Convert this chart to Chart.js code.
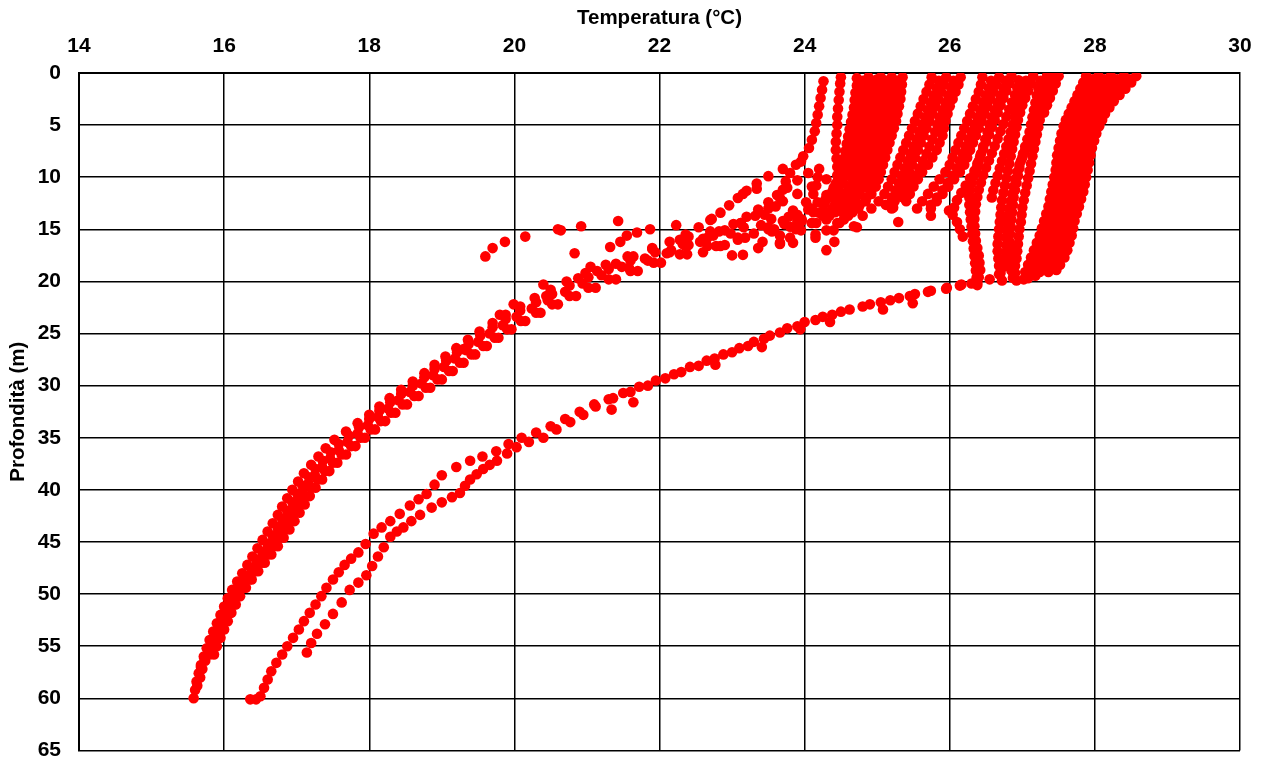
<!DOCTYPE html>
<html><head><meta charset="utf-8">
<script src="https://cdn.jsdelivr.net/npm/chart.js@4/dist/chart.umd.min.js"></script>
<style>html,body{margin:0;padding:0;background:#fff;}</style>
</head><body>
<canvas id="c" width="1264" height="765"></canvas>
<script>
// Profiles: [temperature °C, depth m]
const castL1 = [[15.58,60],[15.6,59.2],[15.62,58.4],[15.65,57.6],[15.68,56.8],[15.72,56],[15.76,55.2],[15.8,54.4],[15.85,53.6],[15.9,52.8],[15.95,52],[16.0,51.2],[16.05,50.4],[16.11,49.6],[16.18,48.8],[16.25,48],[16.32,47.2],[16.39,46.4],[16.46,45.6],[16.53,44.8],[16.6,44],[16.67,43.2],[16.74,42.4],[16.8,41.6],[16.87,40.8],[16.94,40],[17.02,39.2],[17.1,38.4],[17.2,37.6],[17.3,36.8],[17.4,36],[17.52,35.2],[17.68,34.4],[17.84,33.6],[18.0,32.8],[18.14,32],[18.28,31.2],[18.44,30.4],[18.6,29.6],[18.76,28.8],[18.9,28],[19.05,27.2],[19.2,26.4],[19.36,25.6],[19.52,24.8],[19.7,24],[19.88,23.2],[20.08,22.4],[20.28,21.6],[20.5,20.8],[20.72,20],[20.98,19.2],[21.26,18.4],[21.56,17.6],[21.9,16.8],[22.28,16],[22.7,15.2],[23.12,14.4],[23.45,13.6],[23.6,12.8],[23.66,12],[23.7,11.2],[23.74,10.4],[23.8,9.6],[23.88,8.8],[23.98,8],[24.06,7.2],[24.1,6.4],[24.14,5.6],[24.16,4.8],[24.18,4],[24.2,3.2],[24.22,2.4],[24.24,1.6],[24.26,0.8]];
const castL2 = [[15.68,57],[15.73,56.2],[15.78,55.4],[15.84,54.6],[15.9,53.8],[15.95,53],[16.0,52.2],[16.06,51.4],[16.12,50.6],[16.18,49.8],[16.26,49],[16.34,48.2],[16.42,47.4],[16.5,46.6],[16.58,45.8],[16.66,45],[16.73,44.2],[16.8,43.4],[16.87,42.6],[16.94,41.8],[17.01,41],[17.08,40.2],[17.16,39.4],[17.25,38.6],[17.35,37.8],[17.46,37],[17.58,36.2],[17.7,35.4],[17.84,34.6],[17.98,33.8],[18.12,33],[18.26,32.2],[18.4,31.4],[18.56,30.6],[18.72,29.8],[18.88,29],[19.03,28.2],[19.18,27.4],[19.34,26.6],[19.5,25.8],[19.66,25],[19.84,24.2],[20.03,23.4],[20.24,22.6],[20.46,21.8],[20.7,21],[20.94,20.2],[21.2,19.4],[21.48,18.6],[21.8,17.8],[22.16,17],[22.56,16.2],[22.98,15.4],[23.4,14.6],[23.78,13.8],[24.08,13],[24.28,12.2],[24.38,11.4],[24.43,10.6],[24.45,9.8],[24.45,9],[24.44,8.2],[24.43,7.4],[24.43,6.6],[24.44,5.8],[24.45,5],[24.45,4.2],[24.46,3.4],[24.47,2.6],[24.48,1.8],[24.49,1],[24.5,0.4]];
const castL3 = [[15.86,55.8],[15.9,55],[15.95,54.2],[16.0,53.4],[16.05,52.6],[16.1,51.8],[16.16,51],[16.22,50.2],[16.3,49.4],[16.38,48.6],[16.47,47.8],[16.56,47],[16.65,46.2],[16.74,45.4],[16.82,44.6],[16.9,43.8],[16.97,43],[17.04,42.2],[17.11,41.4],[17.18,40.6],[17.26,39.8],[17.35,39],[17.45,38.2],[17.56,37.4],[17.68,36.6],[17.81,35.8],[17.94,35],[18.08,34.2],[18.22,33.4],[18.36,32.6],[18.52,31.8],[18.68,31],[18.84,30.2],[19.0,29.4],[19.15,28.6],[19.3,27.8],[19.46,27],[19.62,26.2],[19.78,25.4],[19.96,24.6],[20.15,23.8],[20.36,23],[20.6,22.2],[20.85,21.4],[21.12,20.6],[21.4,19.8],[21.7,19],[22.02,18.2],[22.38,17.4],[22.78,16.6],[23.18,15.8],[23.58,15],[23.96,14.2],[24.28,13.4],[24.54,12.6],[24.72,11.8],[24.8,11],[24.84,10.2],[24.86,9.4],[24.88,8.6],[24.89,7.8],[24.9,7],[24.91,6.2],[24.92,5.4],[24.93,4.6],[24.94,3.8],[24.95,3],[24.96,2.2],[24.98,1.4],[25.0,0.6]];
const castL4 = [[15.63,58.8],[15.67,58],[15.7,57.2],[15.74,56.4],[15.78,55.6],[15.83,54.8],[15.88,54],[15.93,53.2],[15.98,52.4],[16.03,51.6],[16.09,50.8],[16.15,50],[16.22,49.2],[16.3,48.4],[16.38,47.6],[16.45,46.8],[16.53,46],[16.6,45.2],[16.67,44.4],[16.74,43.6],[16.8,42.8],[16.87,42],[16.94,41.2],[17.01,40.4],[17.08,39.6],[17.17,38.8],[17.26,38],[17.36,37.2],[17.47,36.4],[17.58,35.6],[17.72,34.8],[17.86,34],[18.0,33.2],[18.14,32.4],[18.29,31.6],[18.44,30.8],[18.6,30],[18.76,29.2],[18.9,28.4],[19.06,27.6],[19.21,26.8],[19.37,26],[19.53,25.2],[19.7,24.4],[19.88,23.6],[20.08,22.8],[20.3,22],[20.52,21.2],[20.76,20.4],[21.02,19.6],[21.3,18.8],[21.6,18],[21.94,17.2],[22.32,16.4],[22.74,15.6],[23.16,14.8],[23.54,14],[23.84,13.2],[24.02,12.4],[24.12,11.6],[24.16,10.8],[24.18,10],[24.2,9.2]];
const castL5 = [[15.8,55.8],[15.86,55],[15.91,54.2],[15.97,53.4],[16.02,52.6],[16.08,51.8],[16.14,51],[16.2,50.2],[16.27,49.4],[16.35,48.6],[16.43,47.8],[16.52,47],[16.6,46.2],[16.68,45.4],[16.76,44.6],[16.84,43.8],[16.91,43],[16.98,42.2],[17.05,41.4],[17.12,40.6],[17.2,39.8],[17.29,39],[17.39,38.2],[17.5,37.4],[17.62,36.6],[17.75,35.8],[17.88,35],[18.02,34.2],[18.16,33.4],[18.3,32.6],[18.46,31.8],[18.62,31],[18.78,30.2],[18.94,29.4],[19.1,28.6],[19.25,27.8],[19.41,27],[19.57,26.2],[19.73,25.4],[19.9,24.6],[20.09,23.8],[20.3,23],[20.52,22.2],[20.76,21.4],[21.02,20.6],[21.3,19.8],[21.6,19],[21.92,18.2],[22.28,17.4],[22.66,16.6],[23.08,15.8],[23.5,15],[23.9,14.2],[24.2,13.4],[24.42,12.6],[24.56,11.8],[24.62,11]];
const castR1 = [[16.36,60.1],[16.44,60.1],[16.5,59.8],[16.55,59],[16.6,58.2],[16.65,57.4],[16.72,56.6],[16.8,55.8],[16.87,55],[16.95,54.2],[17.03,53.4],[17.1,52.6],[17.18,51.8],[17.26,51],[17.34,50.2],[17.41,49.4],[17.5,48.6],[17.58,47.9],[17.66,47.2],[17.75,46.6],[17.85,46],[17.95,45.2],[18.06,44.2],[18.17,43.6],[18.29,43],[18.42,42.3],[18.56,41.5],[18.68,40.9],[18.79,40.4],[18.9,39.5],[19.0,38.6],[19.2,37.8],[19.39,37.2],[19.56,36.8],[19.75,36.3],[19.92,35.6],[20.1,35],[20.3,34.5],[20.5,33.9],[20.7,33.2],[20.9,32.5],[21.1,31.8],[21.36,31.2],[21.6,30.6],[21.84,30],[22.08,29.3],[22.3,28.7],[22.54,28.1],[22.76,27.4],[23.0,26.8],[23.22,26.2],[23.44,25.5],[23.66,24.9],[23.9,24.3],[24.15,23.7],[24.38,23.2],[24.62,22.7],[24.9,22.2],[25.18,21.8],[25.45,21.4],[25.7,21],[25.95,20.7],[26.14,20.4],[26.3,20.2],[26.4,19.6],[26.42,18.9],[26.41,18.2],[26.4,17.5],[26.38,16.8],[26.36,16.1],[26.35,15.4],[26.34,14.7],[26.34,14],[26.35,13.3],[26.36,12.6],[26.38,11.9],[26.4,11.2],[26.43,10.5],[26.46,9.8],[26.5,9.1],[26.54,8.4],[26.58,7.7],[26.62,7],[26.66,6.3],[26.7,5.6],[26.74,4.9],[26.78,4.2],[26.82,3.5],[26.86,2.8],[26.9,2.1],[26.93,1.4],[26.95,0.7]];
const castR2 = [[17.14,55.6],[17.2,54.7],[17.28,53.8],[17.39,52.9],[17.5,51.9],[17.62,50.8],[17.73,49.6],[17.85,48.9],[17.96,48.2],[18.04,47.3],[18.12,46.4],[18.2,45.5],[18.29,44.5],[18.38,44],[18.47,43.6],[18.58,43],[18.7,42.4],[18.86,41.7],[19.0,41.2],[19.14,40.7],[19.25,40.3],[19.32,39.6],[19.39,39],[19.48,38.5],[19.57,38],[19.66,37.6],[19.76,37.2],[19.9,36.5],[20.03,35.9],[20.2,35.4],[20.4,35],[20.58,34.2],[20.77,33.5],[20.95,32.8],[21.12,32],[21.3,31.3],[21.5,30.7],[21.72,30.1],[21.95,29.5],[22.2,28.9],[22.42,28.2],[22.65,27.6],[22.88,27],[23.1,26.4],[23.3,25.8],[23.52,25.2],[23.76,24.5],[24.0,23.9],[24.25,23.4],[24.5,22.9],[24.8,22.4],[25.05,22],[25.3,21.6],[25.52,21.2],[25.74,20.9],[25.96,20.6],[26.16,20.3],[26.38,20.1],[26.55,19.8],[26.68,19.3],[26.74,18.6],[26.76,17.9],[26.77,17.2],[26.78,16.5],[26.78,15.8],[26.78,15.1],[26.79,14.4],[26.8,13.7],[26.82,13],[26.84,12.3],[26.86,11.6],[26.88,10.9],[26.9,10.2],[26.93,9.5],[26.96,8.8],[27.0,8.1],[27.04,7.4],[27.08,6.7],[27.12,6],[27.16,5.3],[27.2,4.6],[27.24,3.9],[27.28,3.2],[27.32,2.5],[27.36,1.8],[27.4,1.1],[27.42,0.4]];
const castA1 = [[24.72,0.5],[24.72,1.2],[24.7,1.9],[24.69,2.6],[24.68,3.3],[24.66,4],[24.64,4.7],[24.62,5.4],[24.6,6.1],[24.58,6.8],[24.56,7.5],[24.54,8.2],[24.52,8.9],[24.5,9.6],[24.46,10.3],[24.4,11],[24.3,11.7],[24.18,12.4],[24.05,13.1],[23.9,13.8],[23.72,14.5],[23.55,15.2]];
const castA2 = [[24.88,0.4],[24.88,1.1],[24.87,1.8],[24.86,2.5],[24.85,3.2],[24.84,3.9],[24.82,4.6],[24.8,5.3],[24.78,6],[24.76,6.7],[24.74,7.4],[24.72,8.1],[24.7,8.8],[24.68,9.5],[24.66,10.2],[24.62,10.9],[24.56,11.6],[24.48,12.3],[24.38,13],[24.25,13.7],[24.1,14.4],[23.95,15.1],[23.8,15.8],[23.66,16.4]];
const castA3 = [[25.05,0.4],[25.05,1.1],[25.04,1.8],[25.03,2.5],[25.02,3.2],[25.0,3.9],[24.98,4.6],[24.96,5.3],[24.94,6],[24.92,6.7],[24.9,7.4],[24.88,8.1],[24.85,8.8],[24.82,9.5],[24.78,10.2],[24.74,10.9],[24.7,11.6],[24.66,12.3],[24.62,13],[24.56,13.7],[24.48,14.4],[24.4,15.1]];
const castA4 = [[25.2,0.4],[25.2,1.1],[25.19,1.8],[25.18,2.5],[25.17,3.2],[25.15,3.9],[25.13,4.6],[25.1,5.3],[25.07,6],[25.04,6.7],[25.01,7.4],[24.98,8.1],[24.95,8.8],[24.92,9.5],[24.88,10.2],[24.82,10.9],[24.74,11.6],[24.64,12.3],[24.5,13],[24.34,13.7],[24.16,14.4]];
const castA5 = [[25.35,0.4],[25.34,1.1],[25.33,1.8],[25.32,2.5],[25.3,3.2],[25.28,3.9],[25.26,4.6],[25.23,5.3],[25.2,6],[25.17,6.7],[25.14,7.4],[25.11,8.1],[25.08,8.8],[25.05,9.5],[25.02,10.2],[24.98,10.9],[24.92,11.6],[24.84,12.3],[24.74,13],[24.6,13.7],[24.45,14.4],[24.3,15.1],[24.15,15.8]];
const castA6 = [[24.8,0.75],[24.79,1.45],[24.78,2.15],[24.77,2.85],[24.76,3.55],[24.74,4.25],[24.72,4.95],[24.7,5.65],[24.68,6.35],[24.66,7.05],[24.64,7.75],[24.62,8.45],[24.6,9.15],[24.57,9.85],[24.53,10.55],[24.47,11.25],[24.38,11.95],[24.26,12.65],[24.12,13.35],[23.96,14.05],[23.8,14.75]];
const castA7 = [[24.97,0.75],[24.96,1.45],[24.95,2.15],[24.94,2.85],[24.93,3.55],[24.91,4.25],[24.89,4.95],[24.87,5.65],[24.85,6.35],[24.83,7.05],[24.8,7.75],[24.78,8.45],[24.76,9.15],[24.73,9.85],[24.7,10.55],[24.66,11.25],[24.6,11.95],[24.52,12.65],[24.42,13.35],[24.3,14.05]];
const castA8 = [[25.12,0.75],[25.12,1.45],[25.11,2.15],[25.1,2.85],[25.09,3.55],[25.07,4.25],[25.05,4.95],[25.02,5.65],[24.99,6.35],[24.96,7.05],[24.93,7.75],[24.9,8.45],[24.87,9.15],[24.84,9.85],[24.8,10.55],[24.76,11.25],[24.7,11.95],[24.62,12.65],[24.52,13.35]];
const castA9 = [[25.28,0.75],[25.27,1.45],[25.26,2.15],[25.25,2.85],[25.23,3.55],[25.21,4.25],[25.18,4.95],[25.15,5.65],[25.12,6.35],[25.09,7.05],[25.06,7.75],[25.03,8.45],[25.0,9.15],[24.97,9.85],[24.94,10.55],[24.9,11.25],[24.84,11.95],[24.76,12.65],[24.66,13.35],[24.54,14.05]];
const castB1 = [[25.75,0.4],[25.72,1.1],[25.68,1.8],[25.64,2.5],[25.6,3.2],[25.56,3.9],[25.52,4.6],[25.48,5.3],[25.44,6],[25.4,6.7],[25.36,7.4],[25.32,8.1],[25.28,8.8],[25.24,9.5],[25.2,10.2],[25.15,10.9],[25.1,11.6],[25.02,12.3],[24.92,13],[24.8,13.7]];
const castB2 = [[25.95,0.4],[25.92,1.1],[25.88,1.8],[25.84,2.5],[25.8,3.2],[25.76,3.9],[25.72,4.6],[25.68,5.3],[25.64,6],[25.6,6.7],[25.56,7.4],[25.52,8.1],[25.48,8.8],[25.44,9.5],[25.4,10.2],[25.36,10.9],[25.3,11.6],[25.24,12.3],[25.2,13]];
const castB3 = [[26.15,0.4],[26.12,1.1],[26.08,1.8],[26.04,2.5],[26.0,3.2],[25.97,3.9],[25.94,4.6],[25.92,5.3],[25.9,6],[25.86,6.7],[25.82,7.4],[25.76,8.1],[25.7,8.8],[25.62,9.5],[25.56,10.2],[25.5,10.9],[25.45,11.6],[25.4,12.3]];
const castB4 = [[25.85,0.75],[25.82,1.45],[25.78,2.15],[25.74,2.85],[25.7,3.55],[25.66,4.25],[25.62,4.95],[25.58,5.65],[25.54,6.35],[25.5,7.05],[25.46,7.75],[25.42,8.45],[25.38,9.15],[25.34,9.85],[25.3,10.55],[25.25,11.25],[25.2,11.95],[25.12,12.65]];
const castB5 = [[26.05,0.75],[26.02,1.45],[25.98,2.15],[25.94,2.85],[25.9,3.55],[25.86,4.25],[25.83,4.95],[25.8,5.65],[25.76,6.35],[25.72,7.05],[25.68,7.75],[25.63,8.45],[25.58,9.15],[25.52,9.85],[25.47,10.55],[25.42,11.25],[25.36,11.95]];
const castC3 = [[26.68,0.4],[26.64,1.1],[26.6,1.8],[26.56,2.5],[26.52,3.2],[26.48,3.9],[26.44,4.6],[26.4,5.3],[26.36,6],[26.32,6.7],[26.28,7.4],[26.24,8.1],[26.2,8.8],[26.14,9.5],[26.06,10.2],[25.98,10.9],[25.9,11.6],[25.82,12.3],[25.74,13]];
const castC4 = [[26.85,0.3],[26.82,1],[26.78,1.7],[26.74,2.4],[26.7,3.1],[26.66,3.8],[26.62,4.5],[26.58,5.2],[26.54,5.9],[26.5,6.6],[26.46,7.3],[26.42,8],[26.38,8.7],[26.34,9.4],[26.28,10.1],[26.22,10.8],[26.16,11.5],[26.1,12.2],[26.06,12.9],[26.04,13.6],[26.1,14.3],[26.14,15],[26.18,15.7]];
const castC5 = [[27.34,0.3],[27.32,1],[27.3,1.7],[27.28,2.4],[27.27,3.1],[27.25,3.8],[27.24,4.5],[27.22,5.2],[27.2,5.9],[27.18,6.6],[27.16,7.3],[27.14,8],[27.12,8.7],[27.1,9.4],[27.08,10.1],[27.06,10.8],[27.04,11.5],[27.02,12.2],[27.0,12.9],[26.99,13.6],[26.98,14.3],[26.96,15],[26.95,15.7],[26.94,16.4],[26.93,17.1],[26.92,17.8],[26.9,18.5],[26.9,19.2],[26.92,19.9]];
const castC6 = [[27.15,0.3],[27.12,1],[27.08,1.7],[27.04,2.4],[27.0,3.1],[26.97,3.8],[26.94,4.5],[26.92,5.2],[26.9,5.9],[26.88,6.6],[26.86,7.3],[26.84,8],[26.82,8.7],[26.8,9.4],[26.78,10.1],[26.76,10.8],[26.74,11.5],[26.72,12.2],[26.71,12.9],[26.7,13.6],[26.69,14.3],[26.68,15],[26.67,15.7],[26.66,16.4],[26.66,17.1],[26.67,17.8],[26.68,18.5],[26.7,19.2],[26.72,19.9]];
const castC7 = [[27.5,0.3],[27.46,1],[27.42,1.7],[27.38,2.4],[27.34,3.1],[27.3,3.8]];
const castC8 = [[26.45,0.4],[26.43,1.1],[26.4,1.8],[26.36,2.5],[26.32,3.2],[26.28,3.9],[26.24,4.6],[26.2,5.3],[26.16,6],[26.12,6.7],[26.08,7.4],[26.04,8.1],[26.0,8.8],[25.94,9.5],[25.86,10.2],[25.78,10.9],[25.7,11.6],[25.62,12.3],[25.55,13]];
const castC9 = [[26.57,0.75],[26.54,1.45],[26.5,2.15],[26.46,2.85],[26.42,3.55],[26.38,4.25],[26.34,4.95],[26.3,5.65],[26.26,6.35],[26.22,7.05],[26.18,7.75],[26.14,8.45],[26.1,9.15],[26.04,9.85],[25.97,10.55],[25.9,11.25],[25.82,11.95],[25.74,12.65]];
const castC10 = [[26.77,0.75],[26.74,1.45],[26.7,2.15],[26.66,2.85],[26.62,3.55],[26.58,4.25],[26.55,4.95],[26.52,5.65],[26.49,6.35],[26.46,7.05],[26.43,7.75],[26.4,8.45],[26.37,9.15],[26.33,9.85],[26.3,10.55],[26.28,11.25],[26.27,11.95],[26.27,12.65],[26.28,13.35],[26.29,14.05],[26.3,14.75],[26.31,15.45],[26.32,16.15],[26.33,16.85],[26.34,17.55],[26.35,18.25],[26.36,18.95],[26.37,19.65],[26.38,20.35]];
const castC11 = [[27.05,0.75],[27.02,1.45],[26.99,2.15],[26.96,2.85],[26.93,3.55],[26.9,4.25],[26.87,4.95],[26.84,5.65],[26.81,6.35],[26.78,7.05],[26.75,7.75],[26.72,8.45],[26.69,9.15],[26.66,9.85],[26.63,10.55],[26.6,11.25],[26.58,11.95]];
const castC12 = [[27.25,0.75],[27.22,1.45],[27.2,2.15],[27.18,2.85],[27.16,3.55],[27.14,4.25],[27.12,4.95],[27.1,5.65],[27.07,6.35],[27.04,7.05],[27.01,7.75],[26.98,8.45],[26.96,9.15],[26.94,9.85],[26.92,10.55],[26.9,11.25],[26.88,11.95],[26.87,12.65],[26.86,13.35],[26.85,14.05],[26.84,14.75],[26.83,15.45],[26.82,16.15],[26.82,16.85],[26.82,17.55],[26.83,18.25],[26.85,18.95],[26.87,19.65]];
const castD1 = [[28.57,0.3],[28.5,0.9],[28.42,1.5],[28.34,2.1],[28.26,2.7],[28.2,3.3],[28.14,3.9],[28.1,4.5],[28.06,5.1],[28.02,5.8],[27.99,6.5],[27.96,7.2],[27.94,7.9],[27.92,8.6],[27.9,9.3],[27.88,10],[27.86,10.7],[27.84,11.4],[27.81,12.1],[27.78,12.8],[27.75,13.5],[27.72,14.2],[27.7,14.9],[27.68,15.6],[27.65,16.3],[27.62,17],[27.58,17.7],[27.52,18.4],[27.47,18.9]];
const castD2 = [[28.4,0.3],[28.35,0.9],[28.28,1.5],[28.22,2.1],[28.16,2.7],[28.1,3.3],[28.05,3.9],[28.0,4.5],[27.96,5.1],[27.92,5.8],[27.89,6.5],[27.86,7.2],[27.84,7.9],[27.82,8.6],[27.8,9.3],[27.78,10],[27.76,10.7],[27.74,11.4],[27.71,12.1],[27.68,12.8],[27.65,13.5],[27.62,14.2],[27.6,14.9],[27.57,15.6],[27.54,16.3],[27.5,17],[27.45,17.7],[27.4,18.4],[27.36,19.1]];
const castD3 = [[28.22,0.3],[28.18,0.9],[28.12,1.5],[28.06,2.1],[28.0,2.7],[27.95,3.3],[27.91,3.9],[27.87,4.5],[27.84,5.1],[27.81,5.8],[27.78,6.5],[27.76,7.2],[27.74,7.9],[27.72,8.6],[27.7,9.3],[27.68,10],[27.66,10.7],[27.63,11.4],[27.6,12.1],[27.57,12.8],[27.54,13.5],[27.51,14.2],[27.48,14.9],[27.45,15.6],[27.42,16.3],[27.38,17],[27.33,17.7],[27.28,18.4],[27.24,19.1]];
const castD4 = [[28.05,0.3],[28.0,0.9],[27.95,1.5],[27.9,2.1],[27.85,2.7],[27.81,3.3],[27.77,3.9],[27.73,4.5],[27.7,5.1],[27.67,5.8],[27.65,6.5],[27.63,7.2],[27.61,7.9],[27.59,8.6],[27.57,9.3],[27.55,10],[27.53,10.7],[27.51,11.4],[27.48,12.1],[27.45,12.8],[27.42,13.5],[27.39,14.2],[27.36,14.9],[27.33,15.6],[27.29,16.3],[27.25,17],[27.2,17.7],[27.15,18.4],[27.1,19.1],[27.08,19.7]];
const castD5 = [[27.88,0.3],[27.84,0.9],[27.8,1.5],[27.76,2.1],[27.72,2.7],[27.68,3.3],[27.64,3.9],[27.6,4.5],[27.57,5.1],[27.54,5.8],[27.52,6.5],[27.5,7.2],[27.48,7.9],[27.47,8.6],[27.46,9.3],[27.44,10],[27.42,10.7],[27.4,11.4],[27.38,12.1],[27.36,12.8],[27.33,13.5],[27.3,14.2],[27.27,14.9],[27.24,15.6],[27.2,16.3],[27.16,17],[27.12,17.7],[27.08,18.4],[27.04,19.1],[27.02,19.8]];
const castD6 = [[27.97,0.6],[27.92,1.2],[27.87,1.8],[27.82,2.4],[27.78,3.0],[27.74,3.6],[27.7,4.2],[27.66,4.8],[27.63,5.45],[27.6,6.15],[27.58,6.85],[27.56,7.55],[27.54,8.25],[27.52,8.95],[27.5,9.65],[27.48,10.35],[27.46,11.05],[27.44,11.75],[27.42,12.45],[27.39,13.15],[27.36,13.85],[27.33,14.55],[27.3,15.25],[27.27,15.95],[27.23,16.65],[27.19,17.35],[27.14,18.05],[27.1,18.75]];
const castD7 = [[28.13,0.6],[28.08,1.2],[28.02,1.8],[27.97,2.4],[27.92,3.0],[27.88,3.6],[27.84,4.2],[27.8,4.8],[27.77,5.45],[27.74,6.15],[27.72,6.85],[27.7,7.55],[27.68,8.25],[27.66,8.95],[27.64,9.65],[27.62,10.35],[27.6,11.05],[27.58,11.75],[27.55,12.45],[27.52,13.15],[27.49,13.85],[27.46,14.55],[27.43,15.25],[27.4,15.95],[27.36,16.65],[27.32,17.35],[27.27,18.05],[27.22,18.75],[27.18,19.45]];
const castD8 = [[28.31,0.6],[28.25,1.2],[28.19,1.8],[28.13,2.4],[28.07,3.0],[28.02,3.6],[27.98,4.2],[27.94,4.8],[27.9,5.45],[27.87,6.15],[27.84,6.85],[27.82,7.55],[27.8,8.25],[27.78,8.95],[27.76,9.65],[27.74,10.35],[27.72,11.05],[27.7,11.75],[27.67,12.45],[27.64,13.15],[27.61,13.85],[27.58,14.55],[27.55,15.25],[27.52,15.95],[27.48,16.65],[27.44,17.35],[27.39,18.05],[27.34,18.75]];
const castD9 = [[28.48,0.6],[28.4,1.2],[28.32,1.8],[28.24,2.4],[28.17,3.0],[28.11,3.6],[28.06,4.2],[28.02,4.8],[27.98,5.45],[27.95,6.15],[27.92,6.85],[27.9,7.55],[27.88,8.25],[27.86,8.95],[27.84,9.65],[27.82,10.35],[27.8,11.05],[27.78,11.75],[27.75,12.45],[27.72,13.15],[27.69,13.85],[27.66,14.55],[27.63,15.25],[27.6,15.95],[27.57,16.65],[27.53,17.35],[27.48,18.05]];
const castE1 = [[23.95,8.5],[23.7,9.2],[23.5,9.9],[23.34,10.6],[23.2,11.3],[23.08,12],[22.96,12.7],[22.84,13.4],[22.7,14.1],[22.54,14.8],[22.36,15.5],[22.14,16.2],[21.9,16.9],[21.64,17.6],[21.4,18.3],[21.14,19],[20.88,19.7]];
const castE2 = [[24.05,9.6],[23.9,10.3],[23.76,11],[23.62,11.7],[23.5,12.4],[23.36,13.1],[23.2,13.8],[23.02,14.5],[22.82,15.2],[22.6,15.9],[22.36,16.6],[22.1,17.3],[21.84,18],[21.58,18.7]];
const castE3 = [[24.3,10.2],[24.1,10.9],[23.9,11.6],[23.7,12.3],[23.5,13.0],[23.32,13.7],[23.12,14.4],[22.9,15.1],[22.66,15.8],[22.4,16.5],[22.14,17.2]];
const castE4 = [[24.6,11.2],[24.45,11.8],[24.28,12.4],[24.1,13.0],[23.9,13.6],[23.7,14.2],[23.5,14.8],[23.3,15.4],[23.08,16.0],[22.84,16.6],[22.6,17.2]];
const castE5 = [[24.85,12.0],[24.7,12.6],[24.5,13.2],[24.3,13.8],[24.1,14.4],[23.88,15.0],[23.66,15.6],[23.42,16.2]];
const loosePoints = [[19.6,17.6],[19.7,16.8],[19.87,16.2],[20.15,15.7],[20.6,15.0],[20.92,14.7],[21.43,14.2],[21.87,15.0],[22.23,14.6],[20.83,17.3],[21.32,16.7],[21.46,16.2],[21.55,15.6],[21.69,15.3],[20.64,15.1],[22.72,14.0],[23.0,17.5],[23.15,17.45],[23.36,16.8],[23.66,16.3],[23.84,16.3],[24.3,17.0],[24.41,16.2],[24.68,14.7],[24.72,14.8],[23.34,11.1],[23.15,11.6],[20.44,21.4],[19.99,22.2],[25.22,12.9],[25.29,14.3],[25.74,13.7],[25.99,13.2],[21.64,31.6],[21.34,32.3],[22.77,28.0],[23.41,26.3],[24.35,23.9],[23.94,24.6],[25.08,22.7],[25.49,22.1],[22.4,15.7],[22.9,16.5],[23.9,14.5],[24.15,15.5],[21.05,18.6],[20.4,20.3],[19.8,23.2],[19.3,26.5]];

const allCasts = [castL1, castL2, castL3, castL4, castL5, castR1, castR2,
  castA1, castA2, castA3, castA4, castA5, castA6, castA7, castA8, castA9,
  castB1, castB2, castB3, castB4, castB5,
  castC3, castC4, castC5, castC6, castC7, castC8, castC9, castC10, castC11, castC12,
  castD1, castD2, castD3, castD4, castD5, castD6, castD7, castD8, castD9,
  castE1, castE2, castE3, castE4, castE5, loosePoints];

const FONT = "'Liberation Sans', Arial, sans-serif";
const RED = '#ff0000';

const datasets = allCasts.map(c => ({
  data: c.map(p => ({x: p[0], y: p[1]})),
  backgroundColor: RED,
  borderColor: RED,
  borderWidth: 0,
  pointRadius: 5.3,
  pointHoverRadius: 5.3
}));

new Chart(document.getElementById('c'), {
  type: 'scatter',
  data: { datasets },
  options: {
    responsive: false,
    animation: false,
    devicePixelRatio: 1,
    layout: { padding: { left: 0, right: 24, top: 0, bottom: 14 } },
    plugins: { legend: { display: false }, tooltip: { enabled: false } },
    scales: {
      x: {
        type: 'linear', position: 'top', min: 14, max: 30,
        ticks: { stepSize: 2, color: '#000', padding: 2, font: { family: FONT, size: 21, weight: 'bold' } },
        grid: { color: '#000', lineWidth: 1.5, drawTicks: true, tickLength: 12, tickColor: 'rgba(0,0,0,0)' },
        border: { color: '#000', width: 2 },
        title: { display: true, text: 'Temperatura (°C)', color: '#000', padding: { top: 6, bottom: 0 }, font: { family: FONT, size: 20.5, weight: 'bold' } },
        afterFit(s) { s.height = 73; }
      },
      y: {
        type: 'linear', reverse: true, min: 0, max: 65,
        ticks: { stepSize: 5, color: '#000', padding: 2, font: { family: FONT, size: 21, weight: 'bold' } },
        grid: { color: '#000', lineWidth: 1.5, drawTicks: true, tickLength: 16, tickColor: 'rgba(0,0,0,0)' },
        border: { color: '#000', width: 2 },
        title: { display: true, text: 'Profondità (m)', color: '#000', padding: { top: 6, bottom: 0 }, font: { family: FONT, size: 20.5, weight: 'bold' } },
        afterFit(s) { s.width = 79; }
      }
    }
  }
});
</script>
</body></html>
